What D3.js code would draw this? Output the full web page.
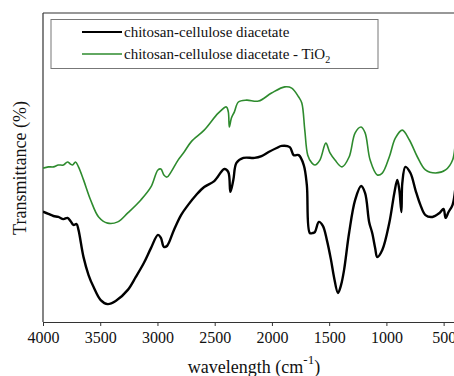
<!DOCTYPE html>
<html>
<head>
<meta charset="utf-8">
<script src="https://cdn.jsdelivr.net/npm/d3@7"></script>
<style>
  body { margin: 0; background: #fff; }
  text { font-family: "Liberation Serif", "DejaVu Serif", serif; }
</style>
</head>
<body>
<div id="chart"></div>
<script>
// wavenumber (cm-1), transmittance (arbitrary %)
const chitosanCA = [
  [4000,35.7],[3953,35.0],[3909,34.3],[3866,34.0],[3822,33.3],[3786,33.7],[3760,32.7],[3734,31.4],
  [3707,31.7],[3690,29.8],[3646,21.0],[3602,15.2],[3558,11.3],[3496,7.1],[3435,5.8],[3365,6.8],
  [3259,10.4],[3189,14.6],[3119,19.1],[3057,23.9],[2996,28.2],[2970,27.2],[2944,24.3],[2917,24.6],
  [2856,29.8],[2794,34.6],[2732,37.9],[2662,41.1],[2592,43.7],[2504,45.6],[2416,49.5],[2381,48.5],
  [2363,42.1],[2337,46.0],[2310,51.5],[2249,53.1],[2152,53.1],[2091,53.7],[2029,55.0],[1959,56.3],
  [1915,57.0],[1844,56.6],[1810,54.0],[1766,54.0],[1722,50.8],[1695,44.3],[1669,28.8],[1643,28.8],
  [1625,29.1],[1590,32.4],[1555,31.1],[1520,26.5],[1484,20.1],[1458,14.6],[1423,9.4],[1396,12.0],
  [1370,16.8],[1326,28.8],[1273,39.5],[1221,44.0],[1186,41.7],[1151,32.4],[1124,28.8],[1098,23.9],
  [1080,21.0],[1036,23.3],[975,32.0],[931,41.7],[905,46.0],[887,42.7],[869,35.6],[861,45.0],
  [834,50.2],[790,48.2],[746,42.7],[703,37.9],[659,34.6],[598,34.0],[536,35.3],[501,36.6],
  [483,33.7],[457,35.6],[422,37.9],[395,44.3]
];

const chitosanCATiO2 = [
  [4000,49.8],[3953,50.2],[3909,50.2],[3866,50.8],[3822,50.8],[3786,51.8],[3760,51.1],[3742,50.8],
  [3716,51.8],[3690,50.2],[3646,46.0],[3584,39.5],[3514,34.0],[3435,32.0],[3347,32.4],[3259,35.3],
  [3145,39.5],[3057,43.7],[2996,49.2],[2970,49.5],[2944,47.6],[2917,46.9],[2882,48.5],[2820,52.4],
  [2767,55.0],[2706,58.3],[2592,62.1],[2469,67.6],[2398,69.6],[2381,68.0],[2372,63.1],[2354,66.0],
  [2328,68.0],[2293,71.2],[2222,71.8],[2117,71.5],[2003,74.1],[1888,76.1],[1827,75.7],[1766,72.8],
  [1739,70.9],[1713,62.1],[1687,54.0],[1652,51.5],[1625,50.8],[1581,52.4],[1529,57.9],[1493,54.7],
  [1449,52.4],[1388,50.2],[1326,53.4],[1273,61.2],[1221,63.1],[1186,61.2],[1142,52.4],[1080,47.6],
  [1036,48.2],[975,53.4],[922,59.5],[861,62.1],[799,58.9],[729,53.4],[659,49.2],[571,48.2],
  [483,49.2],[422,52.4],[395,61.2]
];

const xTicks = [4000, 3500, 3000, 2500, 2000, 1500, 1000, 500];
const seriesNames = ["chitosan-cellulose diacetate", "chitosan-cellulose diacetate - TiO"];

const width = 454, height = 376;
const margin = {top: 13, right: -2, bottom: 54, left: 43};
const plotW = width - margin.left - margin.right;
const plotH = height - margin.top - margin.bottom;

const svg = d3.select("#chart")
  .append("svg")
  .attr("width", width)
  .attr("height", height);

const g = svg.append("g")
  .attr("transform", "translate(" + margin.left + "," + margin.top + ")");

let xScale = d3.scaleLinear()
  .domain([4000, 392])
  .range([0, plotW]);

let yScale = d3.scaleLinear()
  .domain([0, 100])
  .range([plotH, 0]);

// frame: left + top lines
g.append("line")
  .attr("x1", 0).attr("x2", 0).attr("y1", 0).attr("y2", plotH)
  .attr("stroke", "#333").attr("stroke-width", 1.2);
g.append("line")
  .attr("x1", 0).attr("x2", plotW + 10).attr("y1", 0).attr("y2", 0)
  .attr("stroke", "#333").attr("stroke-width", 1.2);

const xAxis = g.append("g")
  .attr("transform", "translate(0," + plotH + ")")
  .call(d3.axisBottom(xScale)
    .tickValues(xTicks)
    .tickSize(4)
    .tickSizeOuter(0)
    .tickPadding(6)
    .tickFormat(d3.format("d")));
xAxis.select(".domain").attr("stroke", "#333").attr("stroke-width", 1.2);
xAxis.selectAll(".tick line").attr("stroke", "#333");
xAxis.selectAll("text")
  .attr("font-size", 16)
  .attr("font-family", "Liberation Serif")
  .attr("fill", "#111");

const line = d3.line()
  .x(function(d) { return xScale(d[0]); })
  .y(function(d) { return yScale(d[1]); })
  .curve(d3.curveCatmullRom.alpha(0.5));

svg.append("clipPath").attr("id", "plotclip")
  .append("rect").attr("x", 0).attr("y", 0).attr("width", plotW).attr("height", plotH);

g.append("path")
  .datum(chitosanCATiO2)
  .attr("clip-path", "url(#plotclip)")
  .attr("fill", "none")
  .attr("stroke", "#2e8b2e")
  .attr("stroke-width", 1.6)
  .attr("stroke-linejoin", "round")
  .attr("d", line);

g.append("path")
  .datum(chitosanCA)
  .attr("clip-path", "url(#plotclip)")
  .attr("fill", "none")
  .attr("stroke", "#000")
  .attr("stroke-width", 2.4)
  .attr("stroke-linejoin", "round")
  .attr("d", line);

// legend
const legend = svg.append("g");
legend.append("rect")
  .attr("x", 51).attr("y", 19.5)
  .attr("width", 327).attr("height", 49)
  .attr("fill", "#fff")
  .attr("stroke", "#777")
  .attr("stroke-width", 1);

const legendColors = ["#000", "#2e8b2e"];
const legendWidths = [2.2, 1.5];
seriesNames.forEach(function(name, i) {
  const y = 32 + i * 22;
  legend.append("line")
    .attr("x1", 82).attr("x2", 122).attr("y1", y).attr("y2", y)
    .attr("stroke", legendColors[i]).attr("stroke-width", legendWidths[i]);
  const t = legend.append("text")
    .attr("x", 124).attr("y", y + 5)
    .attr("font-size", 15)
    .attr("fill", "#111")
    .text(name);
  if (i === 1) {
    t.append("tspan").attr("dy", 4).attr("font-size", 10).text("2");
  }
});

// axis titles
const xt = svg.append("text")
  .attr("x", 254).attr("y", 373)
  .attr("text-anchor", "middle")
  .attr("font-size", 18)
  .attr("fill", "#111")
  .text("wavelength (cm");
xt.append("tspan").attr("dy", -9).attr("font-size", 13).text("-1");
xt.append("tspan").attr("dy", 9).text(")");

svg.append("text")
  .attr("transform", "translate(26,168) rotate(-90)")
  .attr("text-anchor", "middle")
  .attr("font-size", 18)
  .attr("fill", "#111")
  .text("Transmittance (%)");
</script>
</body>
</html>
